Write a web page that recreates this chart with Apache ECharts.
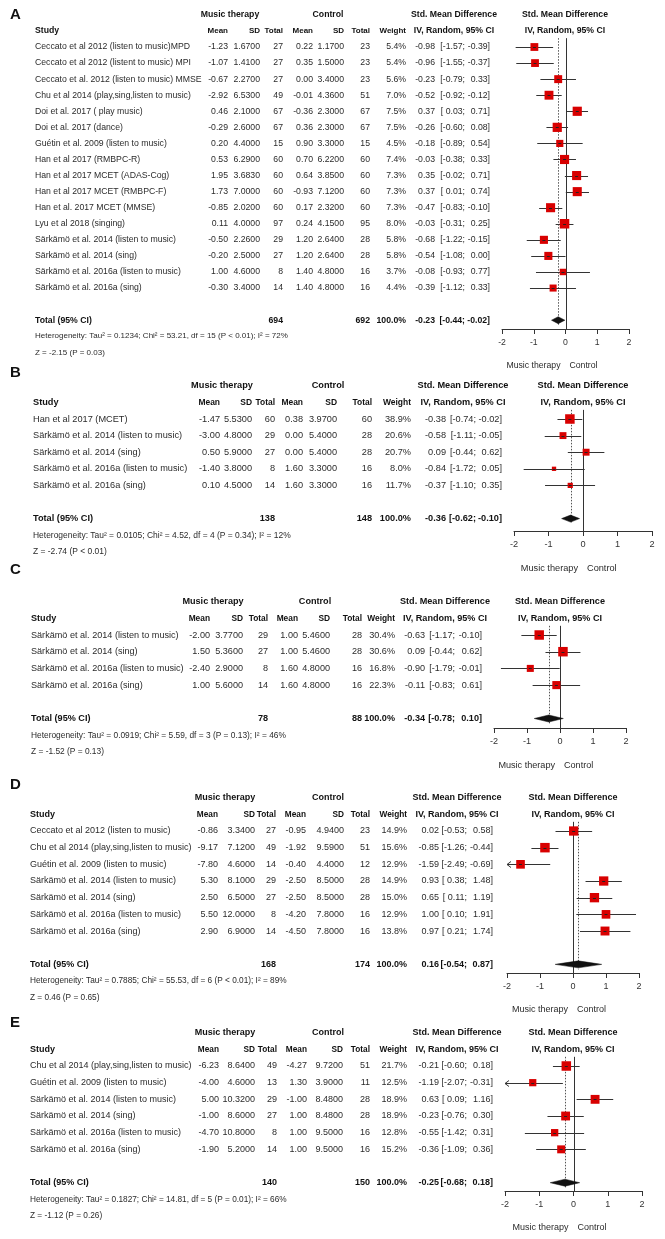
<!DOCTYPE html>
<html><head><meta charset="utf-8">
<script src="https://cdn.jsdelivr.net/npm/echarts@6/dist/echarts.min.js"></script>
<style>html,body{margin:0;padding:0;background:#fff}#c{width:665px;height:1239px}</style>
</head><body><div id="c"></div>
<script>
// ---------- DATA ----------
const studiesA = ["Ceccato et al 2012 (listen to music)MPD","Ceccato et al 2012 (listent to music) MPI","Ceccato et al. 2012 (listen to music) MMSE","Chu et al 2014 (play,sing,listen to music)","Doi et al. 2017 ( play music)","Doi et al. 2017 (dance)","Guétin et al. 2009 (listen to music)","Han et al 2017 (RMBPC-R)","Han et al 2017 MCET (ADAS-Cog)","Han et al 2017 MCET (RMBPC-F)","Han et al. 2017 MCET (MMSE)","Lyu et al 2018 (singing)","Särkämö et al. 2014 (listen to music)","Särkämö et al. 2014 (sing)","Särkämö et al. 2016a (listen to music)","Särkämö et al. 2016a (sing)"];
const mtMeanA = [-1.23,-1.07,-0.67,-2.92,0.46,-0.29,0.20,0.53,1.95,1.73,-0.85,0.11,-0.50,-0.20,1.00,-0.30];
const mtSDA = [1.67,1.41,2.27,6.53,2.1,2.6,4.4,6.29,3.683,7.0,2.02,4.0,2.26,2.5,4.6,3.4];
const mtNA = [27,27,27,49,67,67,15,60,60,60,60,97,29,27,8,14];
const ctMeanA = [0.22,0.35,0.00,-0.01,-0.36,0.36,0.90,0.70,0.64,-0.93,0.17,0.24,1.20,1.20,1.40,1.40];
const ctSDA = [1.17,1.5,3.4,4.36,2.3,2.3,3.3,6.22,3.85,7.12,2.32,4.15,2.64,2.64,4.8,4.8];
const ctNA = [23,23,23,51,67,67,15,60,60,60,60,95,28,28,16,16];
const weightA = [5.4,5.4,5.6,7.0,7.5,7.5,4.5,7.4,7.3,7.3,7.3,8.0,5.8,5.8,3.7,4.4];
const smdA = [-0.98,-0.96,-0.23,-0.52,0.37,-0.26,-0.18,-0.03,0.35,0.37,-0.47,-0.03,-0.68,-0.54,-0.08,-0.39];
const loA = [-1.57,-1.55,-0.79,-0.92,0.03,-0.60,-0.89,-0.38,-0.02,0.01,-0.83,-0.31,-1.22,-1.08,-0.93,-1.12];
const hiA = [-0.39,-0.37,0.33,-0.12,0.71,0.08,0.54,0.33,0.71,0.74,-0.10,0.25,-0.15,0.00,0.77,0.33];
const totalA = [694, 692, -0.23, -0.44, -0.02];
const hetA = "Heterogeneity: Tau² = 0.1234; Chi² = 53.21, df = 15 (P < 0.01); I² = 72%";
const zA = "Z = -2.15 (P = 0.03)";

const studiesB = ["Han et al 2017 (MCET)","Särkämö et al. 2014 (listen to music)","Särkämö et al. 2014 (sing)","Särkämö et al. 2016a (listen to music)","Särkämö et al. 2016a (sing)"];
const mtMeanB = [-1.47,-3.00,0.50,-1.40,0.10];
const mtSDB = [5.53,4.8,5.9,3.8,4.5];
const mtNB = [60,29,27,8,14];
const ctMeanB = [0.38,0.00,0.00,1.60,1.60];
const ctSDB = [3.97,5.4,5.4,3.3,3.3];
const ctNB = [60,28,28,16,16];
const weightB = [38.9,20.6,20.7,8.0,11.7];
const smdB = [-0.38,-0.58,0.09,-0.84,-0.37];
const loB = [-0.74,-1.11,-0.44,-1.72,-1.10];
const hiB = [-0.02,-0.05,0.62,0.05,0.35];
const totalB = [138, 148, -0.36, -0.62, -0.10];
const hetB = "Heterogeneity: Tau² = 0.0105; Chi² = 4.52, df = 4 (P = 0.34); I² = 12%";
const zB = "Z = -2.74 (P < 0.01)";

const studiesC = ["Särkämö et al. 2014 (listen to music)","Särkämö et al. 2014 (sing)","Särkämö et al. 2016a (listen to music)","Särkämö et al. 2016a (sing)"];
const mtMeanC = [-2.00,1.50,-2.40,1.00];
const mtSDC = [3.77,5.36,2.9,5.6];
const mtNC = [29,27,8,14];
const ctMeanC = [1.00,1.00,1.60,1.60];
const ctSDC = [5.46,5.46,4.8,4.8];
const ctNC = [28,28,16,16];
const weightC = [30.4,30.6,16.8,22.3];
const smdC = [-0.63,0.09,-0.90,-0.11];
const loC = [-1.17,-0.44,-1.79,-0.83];
const hiC = [-0.10,0.62,-0.01,0.61];
const totalC = [78, 88, -0.34, -0.78, 0.10];
const hetC = "Heterogeneity: Tau² = 0.0919; Chi² = 5.59, df = 3 (P = 0.13); I² = 46%";
const zC = "Z = -1.52 (P = 0.13)";

const studiesD = ["Ceccato et al 2012 (listen to music)","Chu et al 2014 (play,sing,listen to music)","Guétin et al. 2009 (listen to music)","Särkämö et al. 2014 (listen to music)","Särkämö et al. 2014 (sing)","Särkämö et al. 2016a (listen to music)","Särkämö et al. 2016a (sing)"];
const mtMeanD = [-0.86,-9.17,-7.80,5.30,2.50,5.50,2.90];
const mtSDD = [3.34,7.12,4.6,8.1,6.5,12.0,6.9];
const mtND = [27,49,14,29,27,8,14];
const ctMeanD = [-0.95,-1.92,-0.40,-2.50,-2.50,-4.20,-4.50];
const ctSDD = [4.94,9.59,4.4,8.5,8.5,7.8,7.8];
const ctND = [23,51,12,28,28,16,16];
const weightD = [14.9,15.6,12.9,14.9,15.0,12.9,13.8];
const smdD = [0.02,-0.85,-1.59,0.93,0.65,1.00,0.97];
const loD = [-0.53,-1.26,-2.49,0.38,0.11,0.10,0.21];
const hiD = [0.58,-0.44,-0.69,1.48,1.19,1.91,1.74];
const totalD = [168, 174, 0.16, -0.54, 0.87];
const hetD = "Heterogeneity: Tau² = 0.7885; Chi² = 55.53, df = 6 (P < 0.01); I² = 89%";
const zD = "Z = 0.46 (P = 0.65)";

const studiesE = ["Chu et al 2014 (play,sing,listen to music)","Guétin et al. 2009 (listen to music)","Särkämö et al. 2014 (listen to music)","Särkämö et al. 2014 (sing)","Särkämö et al. 2016a (listen to music)","Särkämö et al. 2016a (sing)"];
const mtMeanE = [-6.23,-4.00,5.00,-1.00,-4.70,-1.90];
const mtSDE = [8.64,4.6,10.32,8.6,10.8,5.2];
const mtNE = [49,13,29,27,8,14];
const ctMeanE = [-4.27,1.30,-1.00,1.00,1.00,1.00];
const ctSDE = [9.72,3.9,8.48,8.48,9.5,9.5];
const ctNE = [51,11,28,28,16,16];
const weightE = [21.7,12.5,18.9,18.9,12.8,15.2];
const smdE = [-0.21,-1.19,0.63,-0.23,-0.55,-0.36];
const loE = [-0.60,-2.07,0.09,-0.76,-1.42,-1.09];
const hiE = [0.18,-0.31,1.16,0.30,0.31,0.36];
const totalE = [140, 150, -0.25, -0.68, 0.18];
const hetE = "Heterogeneity: Tau² = 0.1827; Chi² = 14.81, df = 5 (P = 0.01); I² = 66%";
const zE = "Z = -1.12 (P = 0.26)";

const axisTicks = [-2, 2, 1]; // min, max, interval of the effect axis

// ---------- LAYOUT (pixels) ----------
const layout = [
 {letter:'A', letterY:15, row0:47,   step:16.07, fs:8.7, studyX:35, cols:[228,260,283,313,344,370,406], ci:[435,465,490], mtX:230, ctX:328, smdX:454, plotX:565, x0:502, x1:629, axisY:329},
 {letter:'B', letterY:373, row0:419, step:16.6,  fs:9.2, studyX:33, cols:[220,252,275,303,337,372,411], ci:[446,476,502], mtX:222, ctX:328, smdX:463, plotX:583, x0:514, x1:652, axisY:531},
 {letter:'C', letterY:570, row0:635, step:16.7,  fs:9.1, studyX:31, cols:[210,243,268,298,330,362,395], ci:[425,455,482], mtX:213, ctX:315, smdX:445, plotX:560, x0:494, x1:626, axisY:728},
 {letter:'D', letterY:785, row0:831, step:16.67, fs:9.0, studyX:30, cols:[218,255,276,306,344,370,407], ci:[439,467,493], mtX:225, ctX:328, smdX:457, plotX:573, x0:507, x1:639, axisY:973},
 {letter:'E', letterY:1023, row0:1066, step:16.67, fs:9.0, studyX:30, cols:[219,255,277,307,343,370,407], ci:[439,467,493], mtX:225, ctX:328, smdX:457, plotX:573, x0:505, x1:642, axisY:1191}
];

const panels = [
 {studies:studiesA, mtMean:mtMeanA, mtSD:mtSDA, mtN:mtNA, ctMean:ctMeanA, ctSD:ctSDA, ctN:ctNA, w:weightA, smd:smdA, lo:loA, hi:hiA, total:totalA, het:hetA, z:zA},
 {studies:studiesB, mtMean:mtMeanB, mtSD:mtSDB, mtN:mtNB, ctMean:ctMeanB, ctSD:ctSDB, ctN:ctNB, w:weightB, smd:smdB, lo:loB, hi:hiB, total:totalB, het:hetB, z:zB},
 {studies:studiesC, mtMean:mtMeanC, mtSD:mtSDC, mtN:mtNC, ctMean:ctMeanC, ctSD:ctSDC, ctN:ctNC, w:weightC, smd:smdC, lo:loC, hi:hiC, total:totalC, het:hetC, z:zC},
 {studies:studiesD, mtMean:mtMeanD, mtSD:mtSDD, mtN:mtND, ctMean:ctMeanD, ctSD:ctSDD, ctN:ctND, w:weightD, smd:smdD, lo:loD, hi:hiD, total:totalD, het:hetD, z:zD},
 {studies:studiesE, mtMean:mtMeanE, mtSD:mtSDE, mtN:mtNE, ctMean:ctMeanE, ctSD:ctSDE, ctN:ctNE, w:weightE, smd:smdE, lo:loE, hi:hiE, total:totalE, het:hetE, z:zE}
];

// ---------- BUILD ----------
const FONT = '"Liberation Sans", Arial, Helvetica, sans-serif';
const TXT = '#2b2b2b', BOLD = '#111';
const f2 = v => v.toFixed(2), f4 = v => v.toFixed(4);
const MAXSIDE = 9.5;

function buildRows(P, L) {
  const fs = L.fs, fsS = L.fs * 0.92, fsH = L.fs * 0.92;
  const cell = (x, t, a, b, s) => ({x, t, a, b: !!b, fs: s || fs});
  const ciCells = (e, lo, hi, b) => [
    cell(L.ci[0], f2(e), 'right', b),
    cell(L.ci[1], '[' + (lo >= 0 ? ' ' : '') + f2(lo) + ';', 'right', b),
    cell(L.ci[2], f2(hi) + ']', 'right', b)];
  const rows = [];
  rows.push({r: (L.letterY - L.row0) / L.step, cells: [cell(10, L.letter, 'left', 1, 15)]});
  rows.push({r: -2, cells: [cell(L.mtX, 'Music therapy', 'center', 1), cell(L.ctX, 'Control', 'center', 1),
    cell(L.smdX, 'Std. Mean Difference', 'center', 1), cell(L.plotX, 'Std. Mean Difference', 'center', 1)]});
  rows.push({r: -1, cells: [cell(L.studyX, 'Study', 'left', 1),
    cell(L.cols[0], 'Mean', 'right', 1, fsH), cell(L.cols[1], 'SD', 'right', 1, fsH), cell(L.cols[2], 'Total', 'right', 1, fsH),
    cell(L.cols[3], 'Mean', 'right', 1, fsH), cell(L.cols[4], 'SD', 'right', 1, fsH), cell(L.cols[5], 'Total', 'right', 1, fsH),
    cell(L.cols[6], 'Weight', 'right', 1, fsH),
    cell(L.smdX, 'IV, Random, 95% CI', 'center', 1), cell(L.plotX, 'IV, Random, 95% CI', 'center', 1)]});
  P.studies.forEach((s, i) => {
    rows.push({r: i, cells: [cell(L.studyX, s, 'left'),
      cell(L.cols[0], f2(P.mtMean[i]), 'right'), cell(L.cols[1], f4(P.mtSD[i]), 'right'), cell(L.cols[2], String(P.mtN[i]), 'right'),
      cell(L.cols[3], f2(P.ctMean[i]), 'right'), cell(L.cols[4], f4(P.ctSD[i]), 'right'), cell(L.cols[5], String(P.ctN[i]), 'right'),
      cell(L.cols[6], P.w[i].toFixed(1) + '%', 'right')].concat(ciCells(P.smd[i], P.lo[i], P.hi[i], 0))});
  });
  const n = P.studies.length;
  rows.push({r: n + 1, cells: [cell(L.studyX, 'Total (95% CI)', 'left', 1),
    cell(L.cols[2], String(P.total[0]), 'right', 1), cell(L.cols[5], String(P.total[1]), 'right', 1),
    cell(L.cols[6], '100.0%', 'right', 1)].concat(ciCells(P.total[2], P.total[3], P.total[4], 1))});
  rows.push({r: n + 2, cells: [cell(L.studyX, P.het, 'left', 0, fsS)]});
  rows.push({r: n + 3, cells: [cell(L.studyX, P.z, 'left', 0, fsS)]});
  return rows;
}

const grids = [], xAxes = [], yAxes = [], series = [];
panels.forEach((P, p) => {
  const L = layout[p];
  const n = P.studies.length;
  const yMin = -5;
  const top = L.row0 + yMin * L.step;
  const tableMax = n + 4;
  const plotMax = (L.axisY - L.row0) / L.step;
  const gT = grids.length;
  grids.push({left: 0, width: 665, top: top, height: (tableMax - yMin) * L.step, outerBoundsMode: 'none'});
  const gP = grids.length;
  grids.push({left: L.x0, width: L.x1 - L.x0, top: top, height: L.axisY - top, outerBoundsMode: 'none'});
  xAxes.push({gridIndex: gT, type: 'value', min: 0, max: 665, show: false});
  xAxes.push({gridIndex: gP, type: 'value', min: axisTicks[0], max: axisTicks[1], interval: axisTicks[2], position: 'bottom',
    axisLine: {show: true, onZero: false, lineStyle: {color: '#333', width: 1}},
    axisTick: {show: true, length: 5, lineStyle: {color: '#333', width: 1}},
    axisLabel: {show: true, fontSize: L.fs, color: '#333', margin: 9, fontFamily: FONT},
    splitLine: {show: false}});
  yAxes.push({gridIndex: gT, type: 'value', min: yMin, max: tableMax, inverse: true, show: false});
  yAxes.push({gridIndex: gP, type: 'value', min: yMin, max: plotMax, inverse: true, show: false});

  // table text
  const rows = buildRows(P, L);
  series.push({type: 'custom', xAxisIndex: gT, yAxisIndex: gT, silent: true, animation: false,
    data: rows.map(rw => [0, rw.r]),
    renderItem: (params, api) => {
      const rw = rows[params.dataIndex];
      const r = api.value(1);
      return {type: 'group', children: rw.cells.map(c => {
        const pt = api.coord([c.x, r]);
        return {type: 'text', x: pt[0], y: pt[1], style: {text: c.t, fill: c.b ? BOLD : TXT,
          fontSize: c.fs, fontWeight: c.b ? 'bold' : 'normal', fontFamily: FONT,
          align: c.a, verticalAlign: 'middle'}};
      })};
    }});

  // reference lines: zero (solid) and pooled estimate (dotted)
  series.push({type: 'custom', xAxisIndex: gP, yAxisIndex: gP, silent: true, animation: false, z: 1,
    data: [[0, -0.55, plotMax, 0], [P.total[2], -0.55, n + 1.3, 1]],
    renderItem: (params, api) => {
      const a = api.coord([api.value(0), api.value(1)]);
      const b = api.coord([api.value(0), api.value(2)]);
      const dotted = api.value(3) === 1;
      const x = Math.round(a[0]) + 0.5;
      return {type: 'line', shape: {x1: x, y1: a[1], x2: x, y2: b[1]},
        style: {stroke: dotted ? '#555' : '#333', lineWidth: 1, lineDash: dotted ? [1.5, 1.5] : null}};
    }});

  // study CIs and squares
  const wmax = Math.max.apply(null, P.w);
  series.push({type: 'custom', xAxisIndex: gP, yAxisIndex: gP, silent: true, animation: false, z: 3,
    data: P.studies.map((s, i) => [P.smd[i], i, P.lo[i], P.hi[i], P.w[i]]),
    renderItem: (params, api) => {
      const est = api.value(0), r = api.value(1), lo = api.value(2), hi = api.value(3), w = api.value(4);
      const clo = Math.max(lo, axisTicks[0]), chi = Math.min(hi, axisTicks[1]);
      const pL = api.coord([clo, r]), pR = api.coord([chi, r]), pE = api.coord([est, r]);
      const side = MAXSIDE * Math.sqrt(w / wmax);
      const y = Math.round(pE[1]) + 0.5;
      const ch = [
        {type: 'line', shape: {x1: pL[0], y1: y, x2: pR[0], y2: y}, style: {stroke: '#333', lineWidth: 1}},
        {type: 'rect', shape: {x: pE[0] - side / 2, y: pE[1] - side / 2, width: side, height: side}, style: {fill: '#d80000'}},
        {type: 'line', shape: {x1: pE[0] - 1.5, y1: y, x2: pE[0] + 1.5, y2: y}, style: {stroke: '#222', lineWidth: 1}}
      ];
      if (lo < axisTicks[0]) ch.push({type: 'polyline', shape: {points: [[pL[0] + 4, y - 3], [pL[0], y], [pL[0] + 4, y + 3]]}, style: {stroke: '#333', fill: null, lineWidth: 1}});
      if (hi > axisTicks[1]) ch.push({type: 'polyline', shape: {points: [[pR[0] - 4, y - 3], [pR[0], y], [pR[0] - 4, y + 3]]}, style: {stroke: '#333', fill: null, lineWidth: 1}});
      return {type: 'group', children: ch};
    }});

  // pooled diamond
  series.push({type: 'custom', xAxisIndex: gP, yAxisIndex: gP, silent: true, animation: false, z: 4,
    data: [[P.total[2], n + 1, P.total[3], P.total[4]]],
    renderItem: (params, api) => {
      const r = api.value(1);
      const a = api.coord([api.value(2), r]), e = api.coord([api.value(0), r]), b = api.coord([api.value(3), r]);
      const h = 3.5;
      return {type: 'polygon', shape: {points: [[a[0], a[1]], [e[0], e[1] - h], [b[0], b[1]], [e[0], e[1] + h]]},
        style: {fill: '#111', stroke: '#111', lineWidth: 0.5}};
    }});

  // favours labels under the axis
  series.push({type: 'custom', xAxisIndex: gP, yAxisIndex: gP, silent: true, animation: false,
    data: [[0, plotMax]],
    renderItem: (params, api) => {
      const o = api.coord([api.value(0), api.value(1)]);
      const st = {fill: TXT, fontSize: L.fs, fontFamily: FONT, verticalAlign: 'middle'};
      return {type: 'group', children: [
        {type: 'text', x: o[0] - 5, y: o[1] + 37, style: Object.assign({text: 'Music therapy', align: 'right'}, st)},
        {type: 'text', x: o[0] + 4, y: o[1] + 37, style: Object.assign({text: 'Control', align: 'left'}, st)}
      ]};
    }});
});

const chart = echarts.init(document.getElementById('c'), null, {renderer: 'canvas'});
chart.setOption({backgroundColor: '#fff', animation: false, grid: grids, xAxis: xAxes, yAxis: yAxes, series: series});
</script></body></html>
